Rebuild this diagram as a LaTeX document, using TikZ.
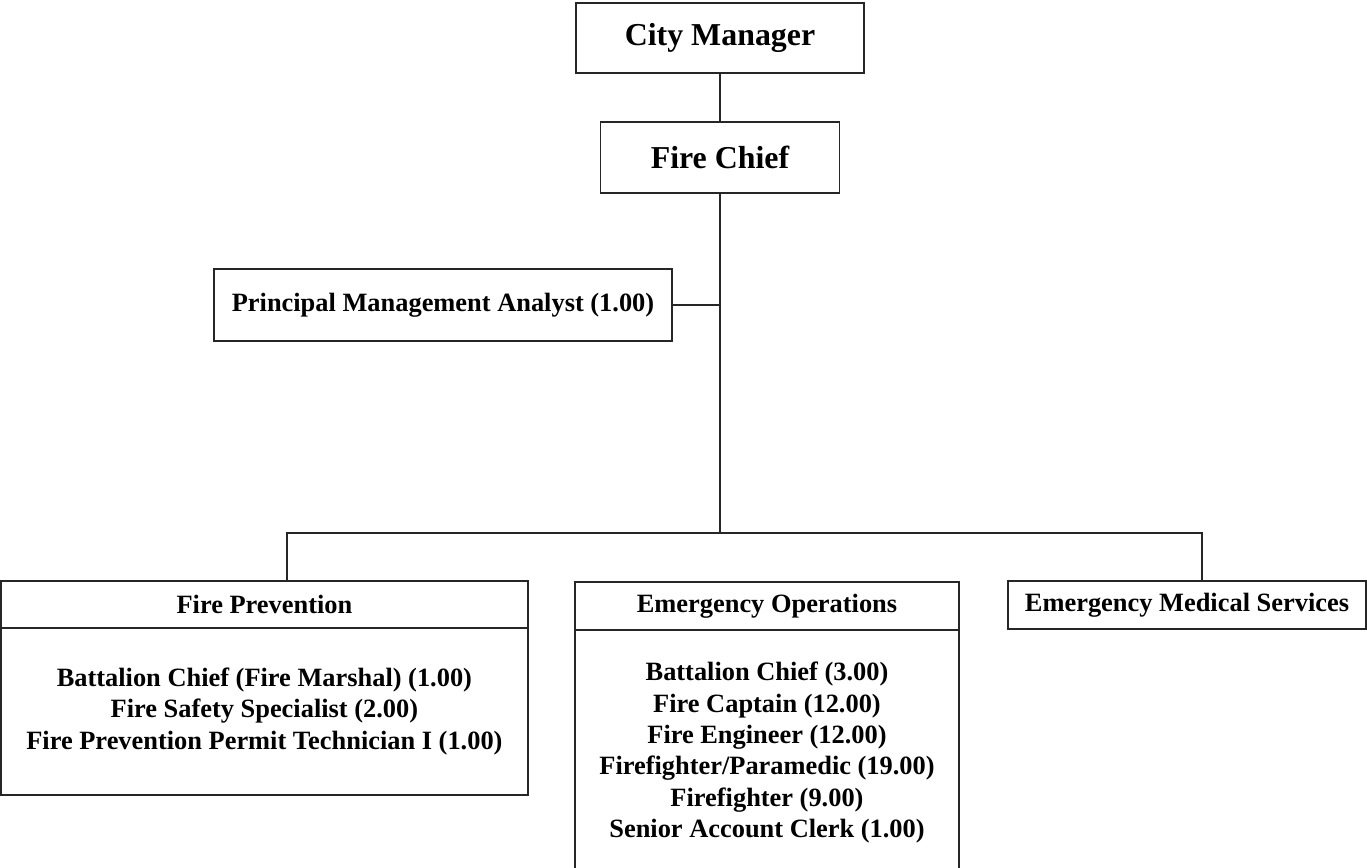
\documentclass[tikz,border=0pt]{standalone}
\usepackage{fontspec}
\setmainfont{Liberation Serif}
\begin{document}
\begin{tikzpicture}[x=1bp,y=-1bp,
  box/.style={draw=black!85, line width=1.6bp, inner sep=0pt, outer sep=0pt,
    align=center, text=black},
  bigtxt/.style={font=\fontsize{32}{36}\selectfont\bfseries},
  midtxt/.style={font=\fontsize{26.5}{31.5}\selectfont\bfseries},
  wire/.style={draw=black!85, line width=1.6bp}]
\useasboundingbox (0,0) rectangle (1367,867);
\clip (0,0) rectangle (1367,867);

% top of the hierarchy
\node[box,bigtxt,minimum width=288bp,minimum height=70bp] (cm) at (720,38) {City Manager};
\node[box,bigtxt,minimum width=239bp,minimum height=71bp] (fc) at (720,157.5) {Fire Chief};
\node[box,midtxt,minimum width=458bp,minimum height=72bp] (pma) at (443,305) {Principal Management Analyst (1.00)};

% divisions: header strip plus staff list
\node[box,midtxt,minimum width=527bp,minimum height=47bp] (fphead) at (264.4,604.5) {Fire Prevention};
\node[box,midtxt,minimum width=527bp,minimum height=167bp,anchor=north] (fpbody) at (fphead.south)
  {Battalion Chief (Fire Marshal) (1.00)\\Fire Safety Specialist (2.00)\\Fire Prevention Permit Technician I (1.00)};

\node[box,midtxt,minimum width=384bp,minimum height=48bp] (eohead) at (767,606) {Emergency Operations};
% the staff list runs past the lower page edge
\node[box,midtxt,minimum width=384bp,minimum height=250bp,anchor=north] (eobody) at (eohead.south)
  {Battalion Chief (3.00)\\Fire Captain (12.00)\\Fire Engineer (12.00)\\Firefighter/Paramedic (19.00)\\Firefighter (9.00)\\Senior Account Clerk (1.00)\\[-21bp]\mbox{}};

\node[box,midtxt,minimum width=358bp,minimum height=48bp] (ems) at (1187,605) {Emergency Medical Services};

% junction points on the distribution bus
\coordinate (fpjoin) at (287,533);
\coordinate (emsjoin) at (1202,533);

% connectors
\path[wire] (cm.south) -- (cm.south |- fc.north);
\path[wire] (fc.south) -- (fc.south |- fpjoin);
\path[wire] (pma.east) -- (pma.east -| fc.south);
\path[wire] (fpjoin |- fphead.north) -- (fpjoin) -- (emsjoin) -- (emsjoin |- ems.north);
\end{tikzpicture}
\end{document}
